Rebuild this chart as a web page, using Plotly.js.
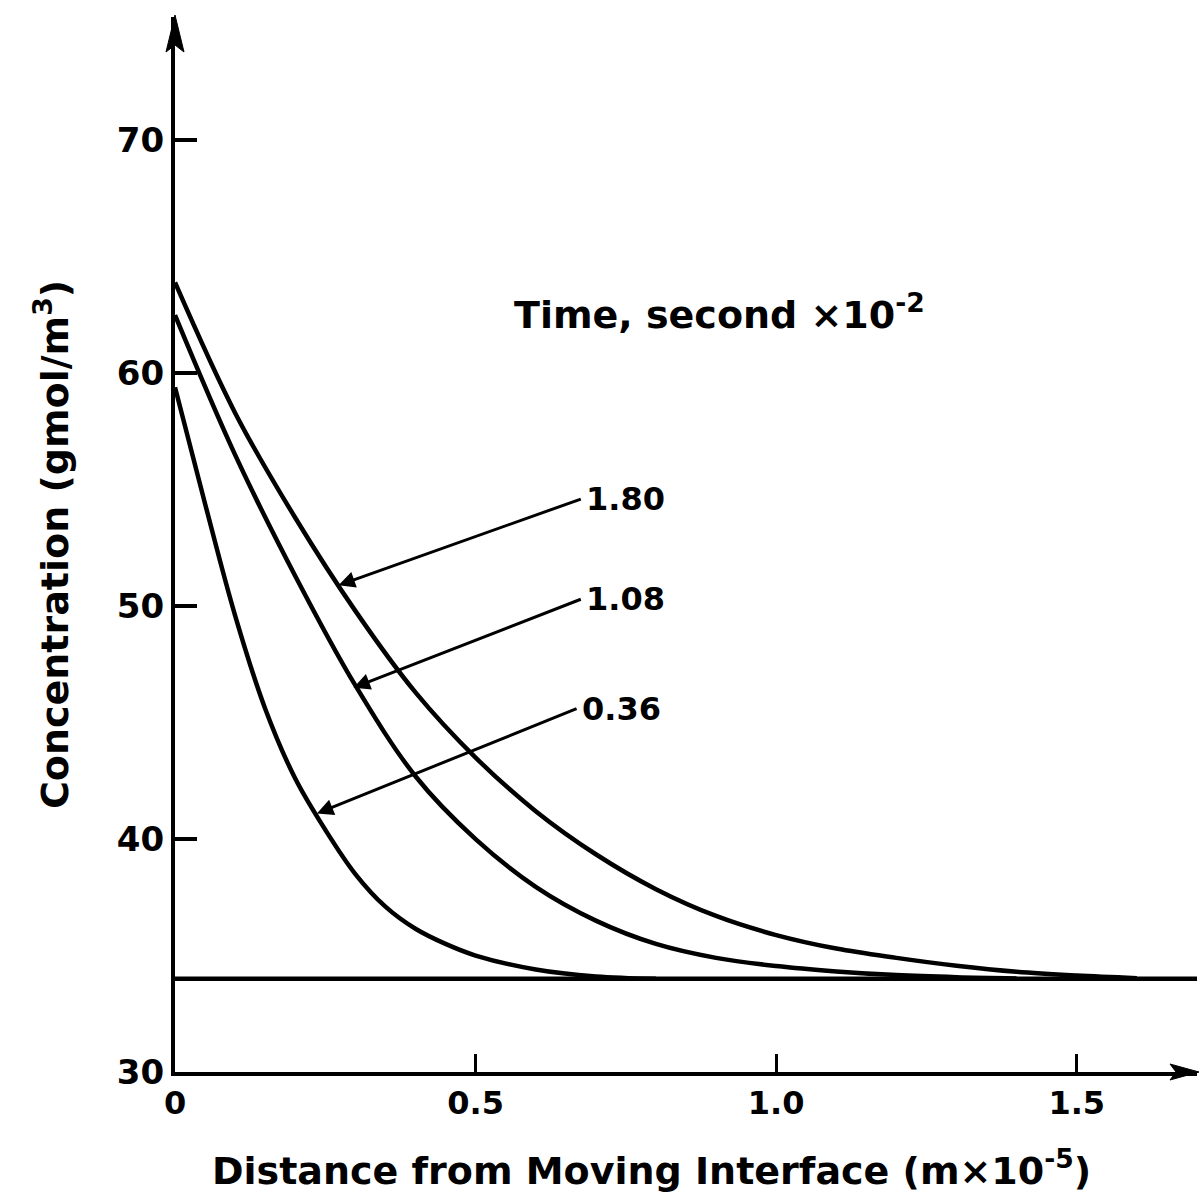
<!DOCTYPE html>
<html><head><meta charset="utf-8">
<script src="https://cdn.plot.ly/plotly-3.0.1.min.js"></script>
<style>html,body{margin:0;padding:0;background:#fff}#chart{width:1203px;height:1202px}</style>
</head><body><div id="chart"></div>
<script>
// Time labels (second x 10^-2)
const timeLabels = ['1.80', '1.08', '0.36'];

// Distance (m x 10^-5) and concentration (gmol/m^3) read for each time
const dist_180 = [0, 0.1, 0.2, 0.3, 0.4, 0.5, 0.6, 0.7, 0.8, 0.9, 1.0, 1.1, 1.2, 1.3, 1.4, 1.5, 1.6];
const conc_180 = [63.9, 58.3, 53.8, 49.8, 46.3, 43.5, 41.2, 39.35, 37.85, 36.7, 35.88, 35.3, 34.9, 34.56, 34.3, 34.14, 34.03];

const dist_108 = [0, 0.1, 0.2, 0.3, 0.4, 0.5, 0.6, 0.7, 0.8, 0.9, 1.0, 1.1, 1.2, 1.3, 1.4];
const conc_108 = [62.5, 56.5, 51.3, 46.6, 42.7, 40.0, 37.95, 36.5, 35.5, 34.9, 34.55, 34.32, 34.16, 34.07, 34.02];

const dist_036 = [0, 0.05, 0.1, 0.15, 0.2, 0.25, 0.3, 0.35, 0.4, 0.45, 0.5, 0.6, 0.7, 0.8];
const conc_036 = [59.4, 54.4, 49.6, 45.6, 42.6, 40.4, 38.5, 37.1, 36.15, 35.5, 35.0, 34.4, 34.1, 34.0];

// Initial (bulk) concentration line
const base_dist = [0, 1.7];
const base_conc = [34, 34];

// Axis ticks
const xTickVals = [0, 0.5, 1.0, 1.5];
const xTickText = ['0', '0.5', '1.0', '1.5'];
const yTickVals = [30, 40, 50, 60, 70];
const yTickText = ['30', '40', '50', '60', '70'];

const FONT = 'DejaVu Sans';
const lineStyle = {color: '#000', width: 4.5, shape: 'spline', smoothing: 1};

const traces = [
  {x: dist_180, y: conc_180, name: timeLabels[0], mode: 'lines', line: lineStyle},
  {x: dist_108, y: conc_108, name: timeLabels[1], mode: 'lines', line: lineStyle},
  {x: dist_036, y: conc_036, name: timeLabels[2], mode: 'lines', line: lineStyle},
  {x: base_dist, y: base_conc, name: 'initial', mode: 'lines', line: {color: '#000', width: 4.5}}
];

const labelCommon = {xref: 'x', yref: 'y', axref: 'x', ayref: 'y', showarrow: true,
  arrowhead: 2, arrowsize: 1.1, arrowwidth: 3, arrowcolor: '#000',
  xanchor: 'left', yanchor: 'middle', borderpad: 4,
  font: {family: FONT, size: 32, color: '#000', weight: 'bold'}};

const layout = {
  width: 1203, height: 1202,
  margin: {l: 175, r: 6, t: 17, b: 130},
  paper_bgcolor: '#fff', plot_bgcolor: '#fff',
  showlegend: false,
  font: {family: FONT, color: '#000'},
  xaxis: {
    range: [0, 1.7], showgrid: false, zeroline: false,
    showline: true, linecolor: '#000', linewidth: 4,
    ticks: 'inside', ticklen: 18, tickwidth: 3, tickcolor: '#000',
    tickvals: xTickVals, ticktext: xTickText,
    tickfont: {family: FONT, size: 32, color: '#000', weight: 'bold'}
  },
  yaxis: {
    range: [30, 75.3], showgrid: false, zeroline: false,
    showline: true, linecolor: '#000', linewidth: 4,
    ticks: 'inside', ticklen: 22, tickwidth: 4, tickcolor: '#000',
    tickvals: yTickVals, ticktext: yTickText,
    tickfont: {family: FONT, size: 34, color: '#000', weight: 'bold'},
    title: {text: 'Concentration (gmol/m<sup>3</sup>)', font: {family: FONT, size: 38, color: '#000', weight: 'bold'}, standoff: 38}
  },
  annotations: [
    Object.assign({}, labelCommon, {x: 0.272, y: 50.9, ax: 0.675, ay: 54.6, text: timeLabels[0]}),
    Object.assign({}, labelCommon, {x: 0.297, y: 46.5, ax: 0.675, ay: 50.3, text: timeLabels[1]}),
    Object.assign({}, labelCommon, {x: 0.236, y: 41.1, ax: 0.668, ay: 45.6, text: timeLabels[2]}),
    {xref: 'paper', yref: 'paper', x: 0.33, y: 0.72, xanchor: 'left', yanchor: 'middle', showarrow: false,
     text: 'Time, second ×10<sup>-2</sup>', font: {family: FONT, size: 38, color: '#000', weight: 'bold'}},
    {xref: 'paper', yref: 'paper', x: 0.466, y: -0.091, xanchor: 'center', yanchor: 'middle', showarrow: false,
     text: 'Distance from Moving Interface (m×10<sup>-5</sup>)', font: {family: FONT, size: 38, color: '#000', weight: 'bold'}}
  ],
  shapes: [
    {type: 'path', xref: 'paper', yref: 'paper', xsizemode: 'pixel', ysizemode: 'pixel',
     xanchor: 1, yanchor: 0, path: 'M 2,0 L -27,8 L -21,0 L -27,-8 Z',
     fillcolor: '#000', line: {color: '#000', width: 1}},
    {type: 'path', xref: 'paper', yref: 'paper', xsizemode: 'pixel', ysizemode: 'pixel',
     xanchor: 0, yanchor: 1, path: 'M 0,2 L -9,-35 L 0,-28 L 9,-35 Z',
     fillcolor: '#000', line: {color: '#000', width: 1}}
  ]
};

Plotly.newPlot('chart', traces, layout, {displayModeBar: false, staticPlot: true});
</script>
</body></html>
